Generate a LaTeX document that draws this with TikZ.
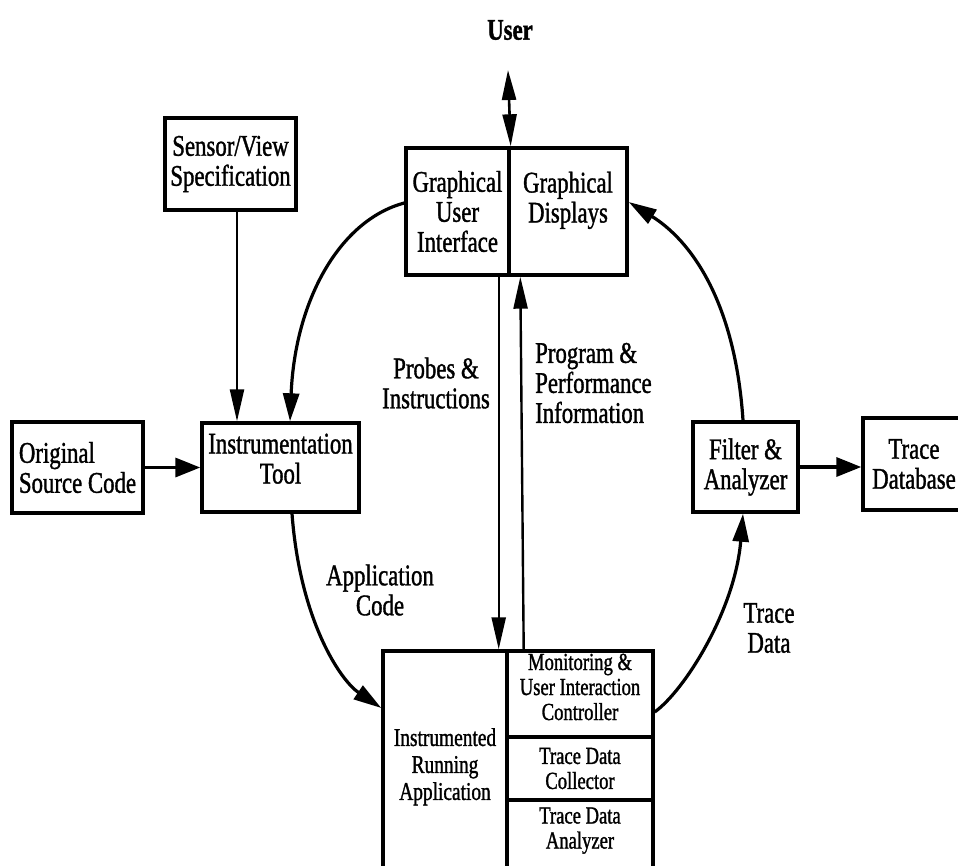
\documentclass[tikz,border=0pt]{standalone}
\usepackage{fontspec}
\setmainfont{Liberation Serif}[FakeStretch=0.76, FakeBold=1.2]
\usetikzlibrary{arrows.meta}
% a block of centred lines, lifted by #1 inside its box (box size unchanged)
\newcommand\liftlines[2]{\raisebox{#1}[\height][\depth]{\begin{tabular}{@{}c@{}}#2\end{tabular}}}
\begin{document}
\begin{tikzpicture}[x=1pt,y=-1pt,
  cell/.style={draw, line width=3.4pt, inner sep=0pt, align=center,
    font=\fontsize{30}{30}\selectfont},
  smallcell/.style={cell, font=\fontsize{24.5}{25}\selectfont},
  lbl/.style={inner sep=0pt, align=center, font=\fontsize{30}{30}\selectfont},
  arr/.style={-{Triangle[length=28pt,width=16pt]}, line width=3.2pt},
  varr/.style={-{Triangle[length=32pt,width=14pt]}, line width=2.4pt},
  harr/.style={-{Triangle[length=25pt,width=19pt]}, line width=3.4pt},
  dbl/.style={{Triangle[length=30pt,width=14pt]}-{Triangle[length=32pt,width=14pt]}, line width=2.6pt}
]
\useasboundingbox (0,0) rectangle (958,865);
\fill[white] (0,0) rectangle (958,865);

% user interface block
\node[lbl, font=\fontsize{30}{30}\selectfont\bfseries] (user) at (510,30) {User};
\node[cell, minimum width=103pt, minimum height=127pt] (gui) at (457.5,211.5)
  {Graphical\\User\\Interface};
\node[cell, minimum width=118pt, minimum height=127pt] (disp) at (568,211.5)
  {\liftlines{10pt}{Graphical\\Displays}};
\coordinate (utop) at (508,70);

% instrumentation side
\node[cell, minimum width=131pt, minimum height=92pt] (sensor) at (230.5,164)
  {Sensor/View\\Specification};
\node[cell, minimum width=131pt, minimum height=91pt, align=left] (orig) at (77.5,467.5)
  {Original\\Source Code};
\node[cell, minimum width=157pt, minimum height=89pt] (tool) at (280.5,467.5)
  {\liftlines{5pt}{Instrumentation\\Tool}};

% analysis side
\node[cell, minimum width=105pt, minimum height=90pt] (filter) at (745.5,467)
  {Filter \&\\Analyzer};
\node[cell, minimum width=102pt, minimum height=92pt] (tdb) at (914,464)
  {Trace\\Database};

% running application block
\node[cell, font=\fontsize{25.5}{27}\selectfont, minimum width=124pt, minimum height=217pt]
  (app) at (445,759.5)
  {\liftlines{-8pt}{Instrumented\\Running\\Application}};
\node[smallcell, minimum width=146pt, minimum height=86pt] (mon) at (580,694)
  {\liftlines{4pt}{Monitoring \&\\User Interaction\\Controller}};
\node[smallcell, minimum width=146pt, minimum height=63pt] (coll) at (580,768.5)
  {Trace Data\\Collector};
\node[smallcell, minimum width=146pt, minimum height=68pt] (ana) at (580,834)
  {\liftlines{3pt}{Trace Data\\Analyzer}};

% connector labels
\node[lbl] (lprobes) at (436,383) {Probes \&\\Instructions};
\node[lbl, anchor=west, align=left] (lprog) at (535,383)
  {Program \&\\Performance\\Information};
\node[lbl] (lapp) at (380,590) {Application\\Code};
\node[lbl] (ltrace) at (769,628) {Trace\\Data};

% connectors
\draw[dbl] (utop) -- (gui.north east);
\draw[varr] ([xshift=6.5pt]sensor.south) -- ([xshift=6.5pt]sensor.south |- tool.north);
\draw[harr] (orig.east) -- (tool.west);
\draw[harr] (filter.east) -- (filter.east -| tdb.west);
\draw[arr] ([yshift=8.5pt]gui.west) .. controls (340,220) and (295,300) .. ([xshift=9.5pt]tool.north);
\draw[arr] ([xshift=11.5pt]tool.south) .. controls (300,620) and (340,680) .. ([yshift=51.5pt]app.west);
\draw[arr] ([yshift=-18pt]mon.east) .. controls (685,690) and (735,610) .. ([xshift=-2.5pt]filter.south);
\draw[arr] ([xshift=-2.5pt]filter.north) .. controls (735,300) and (690,240) .. ([yshift=9.5pt]disp.east);
\draw[varr] ([xshift=-12pt]gui.south east) -- ([xshift=-10pt]app.north east);
\draw[varr] ([xshift=15pt]app.north east) -- ([xshift=13pt]disp.south west);
\end{tikzpicture}
\end{document}
